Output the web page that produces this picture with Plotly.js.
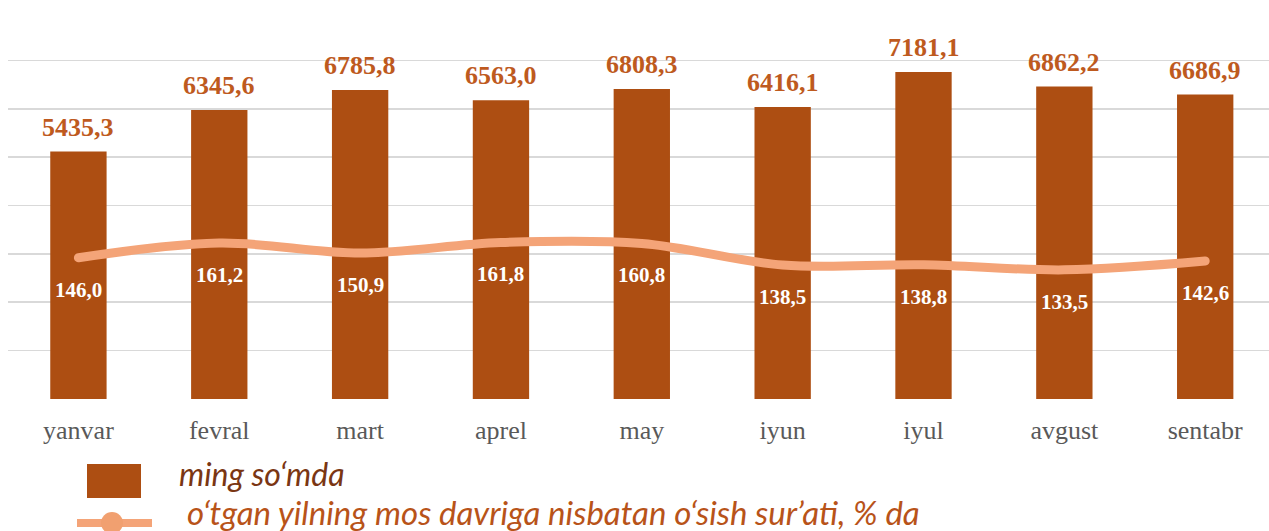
<!DOCTYPE html>
<html><head><meta charset="utf-8">
<script src="https://cdn.plot.ly/plotly-3.0.1.min.js"></script>
<style>
html,body{margin:0;padding:0;background:#fff;}
#chart{width:1269px;height:531px;}
.scatterlayer .js-line{stroke-linecap:round;}
</style></head><body><div id="chart"></div>
<script>
const months = ['yanvar','fevral','mart','aprel','may','iyun','iyul','avgust','sentabr'];
const amounts = [5435.3, 6345.6, 6785.8, 6563.0, 6808.3, 6416.1, 7181.1, 6862.2, 6686.9];
const growth = [146.0, 161.2, 150.9, 161.8, 160.8, 138.5, 138.8, 133.5, 142.6];
const seriesNames = ['ming so‘mda', 'o‘tgan yilning mos davriga nisbatan o‘sish sur’ati, % da'];

const BAR = '#AD4E12', LINE = '#F4A478', LABEL = '#BE5A1E';
const W = 1269, H = 531, ML = 8, MR = 0, MT = 12, MB = 132;
const PW = W - ML - MR, PH = H - MT - MB;
const fmt = v => v.toFixed(1).replace('.', ',');
const px = x => (x - ML) / PW;
const py = y => (H - MB - y) / PH;

const traces = [
  {type: 'bar', x: months, y: amounts, name: seriesNames[0], marker: {color: BAR},
   width: 0.4, yaxis: 'y', hoverinfo: 'skip', showlegend: false},
  {type: 'scatter', mode: 'lines', x: months, y: growth, name: seriesNames[1],
   line: {color: LINE, width: 9, shape: 'spline', smoothing: 1}, yaxis: 'y2',
   hoverinfo: 'skip', showlegend: false}
];

const annotations = [];
months.forEach((m, i) => {
  annotations.push({x: m, y: amounts[i], xref: 'x', yref: 'y', text: fmt(amounts[i]),
    showarrow: false, yanchor: 'bottom', yshift: 8,
    font: {family: 'Liberation Serif', size: 26, color: LABEL, weight: 'bold'}});
  annotations.push({x: m, y: growth[i], xref: 'x', yref: 'y2', text: fmt(growth[i]),
    showarrow: false, yanchor: 'middle', yshift: -32,
    font: {family: 'Liberation Serif', size: 21, color: '#FFFFFF', weight: 'bold'}});
});
// legend texts
annotations.push({xref: 'paper', yref: 'paper', x: px(177), y: py(474), xanchor: 'left', yanchor: 'middle',
  text: seriesNames[0], showarrow: false,
  font: {family: 'Lato', size: 32, color: '#7A3613', style: 'italic'}});
annotations.push({xref: 'paper', yref: 'paper', x: px(185), y: py(512), xanchor: 'left', yanchor: 'middle',
  text: seriesNames[1], showarrow: false,
  font: {family: 'Lato', size: 33, color: '#B85319', style: 'italic'}});

const shapes = [
  {type: 'rect', xref: 'paper', yref: 'paper', x0: px(87), x1: px(141), y0: py(464), y1: py(498),
   fillcolor: BAR, line: {width: 0}},
  {type: 'line', xref: 'paper', yref: 'paper', x0: px(77), x1: px(152), y0: py(523), y1: py(523),
   line: {color: LINE, width: 8}},
  {type: 'circle', xref: 'paper', yref: 'paper', x0: px(101), x1: px(123), y0: py(512), y1: py(534),
   fillcolor: '#F1A070', line: {width: 0}}
];

const layout = {
  width: W, height: H, margin: {l: ML, r: MR, t: MT, b: MB, pad: 0},
  paper_bgcolor: '#FFFFFF', plot_bgcolor: 'rgba(0,0,0,0)',
  showlegend: false, bargap: 0.6,
  xaxis: {type: 'category', range: [-0.5, 8.453], showgrid: false, zeroline: false, showline: false,
    ticks: '', ticklabelstandoff: 13,
    tickfont: {family: 'Liberation Serif', size: 26, color: '#595959'}},
  yaxis: {range: [0, 8500], showgrid: false, zeroline: false, showticklabels: false, showline: false},
  yaxis2: {range: [0, 400], dtick: 50, tick0: 0, overlaying: 'y', side: 'right', showgrid: true,
    gridcolor: '#D9D9D9', gridwidth: 1.6, zeroline: false, showticklabels: false, showline: false},
  annotations: annotations, shapes: shapes
};

Plotly.newPlot('chart', traces, layout, {displayModeBar: false, staticPlot: true});
</script></body></html>
